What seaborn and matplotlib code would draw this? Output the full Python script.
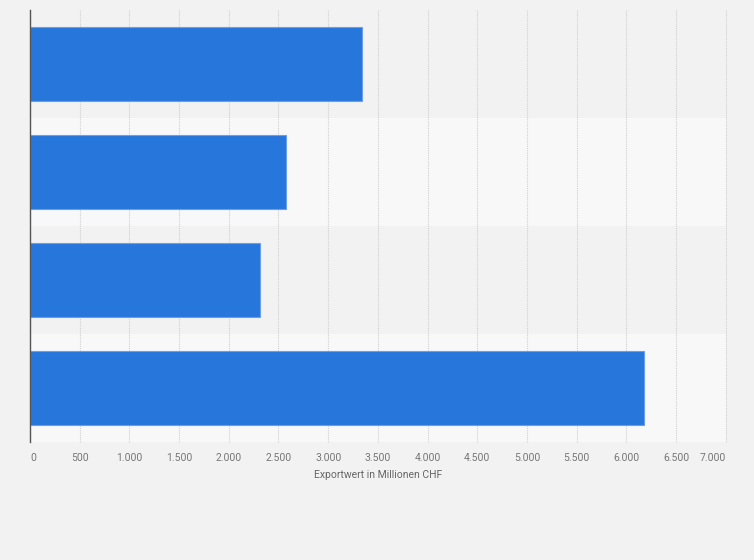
import numpy as np
import pandas as pd
import matplotlib.pyplot as plt
import seaborn as sns

categories = ['Kategorie 1', 'Kategorie 2', 'Kategorie 3', 'Kategorie 4']
exportwert = [3345, 2575, 2310, 6180]
ticks = [0, 500, 1000, 1500, 2000, 2500, 3000, 3500, 4000, 4500, 5000, 5500, 6000, 6500, 7000]
tick_labels = ['0', '500', '1.000', '1.500', '2.000', '2.500', '3.000', '3.500',
               '4.000', '4.500', '5.000', '5.500', '6.000', '6.500', '7.000']

df = pd.DataFrame({'Kategorie': categories, 'Exportwert': exportwert})

sns.set_style('white')
plt.rcParams['font.family'] = ['Roboto', 'DejaVu Sans']

fig = plt.figure(figsize=(7.54, 5.6), dpi=100)
fig.patch.set_facecolor('#f2f2f2')
ax = fig.add_axes([30 / 754, 1 - 442 / 560, 695.7 / 754, 432 / 560])
ax.set_facecolor('#f2f2f2')

# alternating row bands
for i in range(len(categories)):
    ax.axhspan(i - 0.5, i + 0.5, color='#f2f2f2' if i % 2 == 0 else '#f8f8f8', zorder=0, lw=0)

sns.barplot(data=df, x='Exportwert', y='Kategorie', orient='h', color='#2776dc',
            saturation=1, width=0.68, edgecolor='#6a9fe8', linewidth=0.8, ax=ax, zorder=3)

ax.set_xlim(0, 7000)
ax.set_ylim(len(categories) - 0.5, -0.5)
ax.set_xticks(ticks)
ax.set_xticklabels(tick_labels, fontsize=7.5, color='#777777')
labs = ax.get_xticklabels()
labs[0].set_ha('left')
labs[-1].set_ha('right')
ax.tick_params(axis='x', length=0, pad=8)
ax.set_yticks([])
ax.set_ylabel('')
ax.set_xlabel('Exportwert in Millionen CHF', fontsize=7.5, color='#666666', labelpad=5)

ax.grid(axis='x', color='#d0d0d0', linestyle=(0, (1, 1)), linewidth=0.8, zorder=1)
for gl in ax.get_xgridlines():
    gl.set_clip_on(False)
ax.set_axisbelow(True)
for s in ['top', 'right', 'bottom']:
    ax.spines[s].set_visible(False)
ax.spines['left'].set_color('#555555')
ax.spines['left'].set_linewidth(1)
ax.spines['left'].set_zorder(5)

fig.savefig('out.png', dpi=100, facecolor=fig.get_facecolor())
